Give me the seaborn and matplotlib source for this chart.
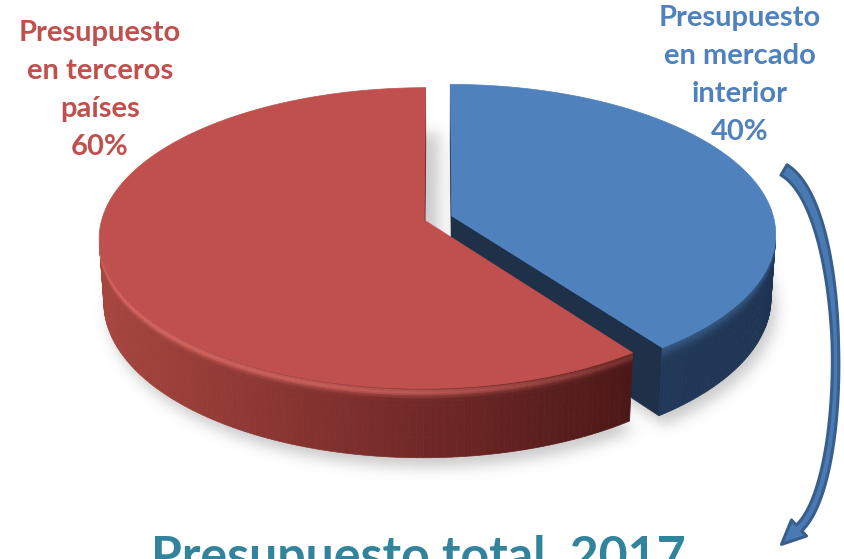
import numpy as np
import matplotlib
matplotlib.use("Agg")
import matplotlib.pyplot as plt
import seaborn as sns
from matplotlib.patches import Polygon
from matplotlib.collections import PolyCollection
from matplotlib.path import Path
from matplotlib.colors import to_rgb

# --- data -------------------------------------------------------------
categories = ["Presupuesto\nen terceros\npaíses", "Presupuesto\nen mercado\ninterior"]
shares = [60, 40]
title = "Presupuesto total  2017"

# --- style ------------------------------------------------------------
sns.set_theme(style="white")
plt.rcParams['font.family'] = ['Lato', 'DejaVu Sans']

top_colors = sns.color_palette(["#C0504D", "#4F81BD"])
label_colors = ["#C0504D", "#4F81BD"]
title_color = "#31849B"

W, H = 844, 559
fig = plt.figure(figsize=(W / 100, H / 100), dpi=100)
ax = fig.add_axes([0, 0, 1, 1])
ax.set_xlim(0, W)
ax.set_ylim(H, 0)
ax.axis("off")

# --- simple perspective camera for the 3-D pie ---------------------------
cx, cy = 438.0, 218.0          # screen position of the pie centre
focal, dist = 2402.0, 7.46
phi = np.radians(27.3)
cphi, sphi = np.cos(phi), np.sin(phi)
thick = 0.225
explode = 0.045
cam = np.array([0.0, -dist * cphi, dist * sphi])


def proj(X, Y, Z):
    X, Y, Z = np.asarray(X, float), np.asarray(Y, float), np.asarray(Z, float)
    yc = Z * cphi + Y * sphi
    zc = dist + Y * cphi - Z * sphi
    return np.stack([cx + focal * X / zc, cy - focal * yc / zc], axis=-1)


def lerp_color(stops, x):
    xs = [s[0] for s in stops]
    cols = np.array([to_rgb(s[1]) for s in stops])
    return np.array([np.interp(x, xs, cols[:, k]) for k in range(3)])


red_wall = [(100, "#A8463F"), (360, "#7C2E2C"), (640, "#4A1716")]
blue_wall = [(640, "#22395A"), (780, "#1E3452")]
wall_stops = [red_wall, blue_wall]
cut_colors = ["#6A2220", "#1F3049"]
rim_colors = [np.array(to_rgb("#E8716C")), np.array(to_rgb("#3F6A9C"))]


def rim_weight(i, zm, x):
    # bevel shading just under the top edge of each slice
    if i == 0:
        fade = np.interp(x, [100, 420, 640], [1.0, 0.85, 0.35])
        return 0.75 * fade * np.exp(-((zm + 0.014) / 0.013) ** 2)
    return 0.6 * np.exp(-(zm / 0.028) ** 2)


# slice angles (counter-clockwise from 12 o'clock)
fracs = np.array(shares, float) / sum(shares)
starts = 90 + 360 * np.concatenate([[0], np.cumsum(fracs)[:-1]])
ends = starts + 360 * fracs

slices = []
for i in range(len(shares)):
    a0, a1 = starts[i], ends[i]
    mid = np.radians((a0 + a1) / 2)
    ox, oy = explode * np.cos(mid), explode * np.sin(mid)
    th = np.radians(np.linspace(a0, a1, 200))
    slices.append(dict(a0=np.radians(a0), a1=np.radians(a1), ox=ox, oy=oy, th=th))

# --- soft shadow under the pie ---------------------------------------
yy, xx = np.mgrid[0:H, 0:W] + 0.5
pts = np.c_[xx.ravel(), yy.ravel()]
mask = np.zeros(H * W)
for s in slices:
    bx = s["ox"] + np.cos(s["th"])
    by = s["oy"] + np.sin(s["th"])
    poly = np.vstack([proj(s["ox"], s["oy"], -thick), proj(bx, by, -thick * np.ones_like(bx))])
    poly = poly + np.array([5.0, 9.0])
    mask = np.maximum(mask, Path(poly).contains_points(pts).astype(float))
# shade falling into the gap between the two slices
s = slices[0]
gx, gy = s["ox"] + np.cos(s["th"]), s["oy"] + np.sin(s["th"])
gap = np.vstack([proj(s["ox"], s["oy"], 0), proj(gx, gy, np.zeros_like(gx))]) + np.array([14.0, 45.0])
mask = np.maximum(mask, 0.9 * Path(gap).contains_points(pts).astype(float))
mask = mask.reshape(H, W)


def blur(img, sigma):
    r = int(3 * sigma)
    k = np.exp(-0.5 * (np.arange(-r, r + 1) / sigma) ** 2)
    k /= k.sum()
    img = np.apply_along_axis(lambda v: np.convolve(v, k, mode="same"), 1, img)
    img = np.apply_along_axis(lambda v: np.convolve(v, k, mode="same"), 0, img)
    return img


shadow = blur(mask, 7)
rgba = np.zeros((H, W, 4))
rgba[..., :3] = 0.45
rgba[..., 3] = 0.38 * shadow
ax.imshow(rgba, extent=(0, W, H, 0), zorder=0, interpolation="bilinear")

# --- draw slices (back slice first) -----------------------------------
levels = np.array([0, -0.006, -0.012, -0.018, -0.024, -0.032, -0.042, -0.056,
                   -0.075, -0.11, -0.16, -thick])
order = [1, 0]
z = 1
for i in order:
    s = slices[i]
    ox, oy, th = s["ox"], s["oy"], s["th"]
    rx, ry = ox + np.cos(th), oy + np.sin(th)
    ring = [proj(rx, ry, lv * np.ones_like(rx)) for lv in levels]

    pieces = []
    # outer curved wall, split in horizontal bands for the bevel shading
    for k in range(len(th) - 1):
        tm = 0.5 * (th[k] + th[k + 1])
        n = np.array([np.cos(tm), np.sin(tm), 0.0])
        p = np.array([ox + np.cos(tm), oy + np.sin(tm), -thick / 2])
        if np.dot(cam - p, n) <= 0:
            continue
        depth = np.linalg.norm(cam - p)
        for j in range(len(levels) - 1):
            quad = np.array([ring[j][k], ring[j][k + 1], ring[j + 1][k + 1], ring[j + 1][k]])
            xm = quad[:, 0].mean()
            base = lerp_color(wall_stops[i], xm)
            w = rim_weight(i, 0.5 * (levels[j] + levels[j + 1]), xm)
            col = (1 - w) * base + w * rim_colors[i]
            pieces.append((depth, quad, tuple(col)))
    # flat radial cut faces
    for a, sgn in ((s["a0"], -1), (s["a1"], 1)):
        na = a + sgn * np.pi / 2
        n = np.array([np.cos(na), np.sin(na), 0.0])
        p = np.array([ox + 0.5 * np.cos(a), oy + 0.5 * np.sin(a), -thick / 2])
        if np.dot(cam - p, n) <= 0:
            continue
        quad = np.array([proj(ox, oy, 0), proj(ox + np.cos(a), oy + np.sin(a), 0),
                         proj(ox + np.cos(a), oy + np.sin(a), -thick), proj(ox, oy, -thick)])
        depth = np.linalg.norm(cam - p) + 1.0
        pieces.append((depth, quad, to_rgb(cut_colors[i])))

    pieces.sort(key=lambda t: -t[0])
    coll = PolyCollection([q for _, q, _ in pieces], facecolors=[c for _, _, c in pieces],
                          edgecolors=[c for _, _, c in pieces], linewidths=0.5, zorder=z)
    ax.add_collection(coll)
    z += 1

    # top face
    face = np.vstack([proj(ox, oy, 0), ring[0]])
    ax.add_patch(Polygon(face, closed=True, facecolor=top_colors[i],
                         edgecolor=top_colors[i], lw=0.5, zorder=z))
    z += 1

# --- curved arrow on the right ----------------------------------------
P = np.array([[784, 170], [848.8, 208.3], [851.2, 479.1], [799, 528]], float)
t = np.linspace(0, 1, 120)[:, None]
curve = ((1 - t) ** 3 * P[0] + 3 * t * (1 - t) ** 2 * P[1]
         + 3 * t ** 2 * (1 - t) * P[2] + t ** 3 * P[3])
deriv = (3 * (1 - t) ** 2 * (P[1] - P[0]) + 6 * t * (1 - t) * (P[2] - P[1])
         + 3 * t ** 2 * (P[3] - P[2]))
tang = deriv / np.linalg.norm(deriv, axis=1, keepdims=True)
norm = np.c_[-tang[:, 1], tang[:, 0]]
tt = t.ravel()
half = np.interp(tt, [0, 0.5, 1], [6.0, 3.2, 4.0])[:, None]
left = curve + norm * half
right = curve - norm * half
d_end = tang[-1]
n_end = np.array([-d_end[1], d_end[0]])
tip = curve[-1] + 24 * d_end
head = [curve[-1] + n_end * 11, tip, curve[-1] - n_end * 11]
arrow = np.vstack([left, head, right[::-1]])
ax.add_patch(Polygon(arrow, closed=True, facecolor="#4A7AB4", edgecolor="#385E8C",
                     lw=2.2, joinstyle="round", zorder=20))

# --- text -------------------------------------------------------------
pos = [(100, 90), (740, 75)]
for lab, val, col, (x, y) in zip(categories, shares, label_colors, pos):
    ax.text(x, y, f"{lab}\n{val}%", ha="center", va="center", fontsize=21,
            fontweight="bold", color=col, linespacing=1.56, zorder=30)

ax.text(418, 535, title, ha="center", va="top", fontsize=36, fontweight="bold",
        color=title_color, zorder=30)

fig.savefig("out.png", dpi=100)
